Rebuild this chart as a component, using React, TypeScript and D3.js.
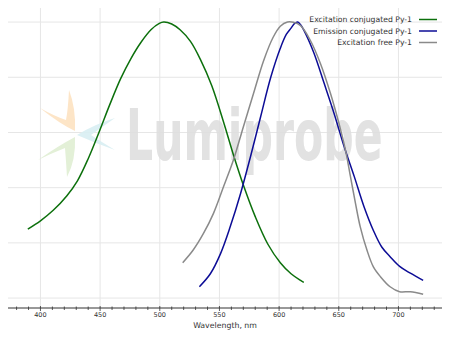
import React from "react";
import * as d3 from "d3";

const greenX = [389.4, 400, 410.7, 422, 431, 440, 449, 458, 467.2, 475.6, 484, 492.6, 499.6, 503.3, 510, 517, 525.7, 534, 543.5, 554, 562, 570.4, 580, 590.6, 601, 610, 618, 620.7];
const greenY = [0.25, 0.28, 0.318, 0.37, 0.425, 0.505, 0.6, 0.7, 0.795, 0.866, 0.925, 0.972, 0.995, 1.0, 0.993, 0.972, 0.93, 0.865, 0.77, 0.63, 0.515, 0.405, 0.295, 0.195, 0.128, 0.088, 0.064, 0.057];

const blueX = [533.2, 542.5, 551, 559, 567.7, 576, 584.5, 593, 601, 606, 610, 613, 615.6, 618, 620.7, 629, 637.6, 646, 654.4, 663, 671, 679, 686, 693, 701, 710, 720.7];
const blueY = [0.041, 0.089, 0.162, 0.258, 0.379, 0.512, 0.657, 0.8, 0.905, 0.955, 0.978, 0.995, 1.0, 0.99, 0.971, 0.89, 0.78, 0.67, 0.55, 0.44, 0.333, 0.245, 0.185, 0.15, 0.115, 0.09, 0.064];

const greyX = [519.2, 528, 536.6, 545, 553.4, 561.7, 570, 578.6, 587, 595, 601, 607, 612, 618, 626, 634.6, 643, 650, 655.6, 659.8, 664, 668, 673.6, 679, 685, 693, 701, 710, 720.7];
const greyY = [0.128, 0.174, 0.234, 0.307, 0.403, 0.5, 0.62, 0.742, 0.86, 0.945, 0.985, 1.0, 0.999, 0.987, 0.935, 0.85, 0.742, 0.635, 0.536, 0.44, 0.343, 0.258, 0.174, 0.113, 0.077, 0.041, 0.023, 0.023, 0.014];

const seriesNames = ["Excitation conjugated Py-1", "Emission conjugated Py-1", "Excitation free Py-1"];
const seriesColors = ["#0c700c", "#0c0c96", "#8a8a8a"];
const xTicks = [400, 450, 500, 550, 600, 650, 700];
const yGrid = [0, 0.2, 0.4, 0.6, 0.8, 1.0];
const xLabel = "Wavelength, nm";

const W = 450, H = 338;
const L = 8, R = 442, T = 8, B = 308;

export default function App() {
  const x = d3.scaleLinear().domain([372.8, 736.5]).range([L, R]);
  const y = d3.scaleLinear().domain([-0.036, 1.051]).range([B, T]);
  const line = d3
    .line<[number, number]>()
    .x((d) => x(d[0]))
    .y((d) => y(d[1]))
    .curve(d3.curveCatmullRom.alpha(0.5));
  const series = [
    d3.zip(greenX, greenY) as [number, number][],
    d3.zip(blueX, blueY) as [number, number][],
    d3.zip(greyX, greyY) as [number, number][],
  ];
  const minor = d3.range(380, 731, 10).filter((v) => v % 50 !== 0);
  const font = "DejaVu Sans, sans-serif";

  return (
    <svg width={W} height={H} style={{ position: "absolute", left: 0, top: 0, background: "#fff" }}>
      {/* grid */}
      {xTicks.map((t) => (
        <line key={"gx" + t} x1={x(t)} x2={x(t)} y1={T} y2={B} stroke="#e6e6e6" strokeWidth={1} />
      ))}
      {yGrid.map((t) => (
        <line key={"gy" + t} x1={L} x2={R} y1={y(t)} y2={y(t)} stroke="#e6e6e6" strokeWidth={1} />
      ))}
      {/* watermark */}
      <g opacity={0.9}>
        <path d="M40,108 Q60,124 75,131 Q76,108 69,90 Q68,110 66,120 Q54,116 40,108 Z" fill="#fde3c2" />
        <path d="M38,160 Q58,146 75,137 Q76,160 67,177 Q66,160 65,148 Q52,153 38,160 Z" fill="#e0efd3" />
        <path d="M115,118 Q95,124 77,135 Q95,143 115,150 Q100,141 91,135 Q102,127 115,118 Z" fill="#d9eff3" />
        <g transform="translate(126,160) scale(0.6,1)">
          <text x={0} y={0} fontFamily={font} fontWeight="bold" fontSize={71} fill="#dfdfdf">
            Lumiprobe
          </text>
        </g>
      </g>
      {/* curves */}
      {series.map((s, i) => (
        <path key={"s" + i} d={line(s) || ""} fill="none" stroke={seriesColors[i]} strokeWidth={1.5} strokeLinejoin="round" />
      ))}
      {/* x axis */}
      <line x1={L} x2={R} y1={B} y2={B} stroke="#333" strokeWidth={1} />
      {minor.map((t) => (
        <line key={"mt" + t} x1={x(t)} x2={x(t)} y1={B - 1.5} y2={B + 2} stroke="#333" strokeWidth={0.8} />
      ))}
      {xTicks.map((t) => (
        <g key={"t" + t}>
          <line x1={x(t)} x2={x(t)} y1={B - 2} y2={B + 3} stroke="#333" strokeWidth={0.8} />
          <text x={x(t)} y={317} textAnchor="middle" fontFamily={font} fontSize={6.5} fill="#333">
            {t}
          </text>
        </g>
      ))}
      <text x={(L + R) / 2} y={328} textAnchor="middle" fontFamily={font} fontSize={7.8} fill="#333">
        {xLabel}
      </text>
      {/* legend */}
      {seriesNames.map((n, i) => (
        <g key={"lg" + i}>
          <text x={412} y={19.5 + i * 11.5 + 2.8} textAnchor="end" fontFamily={font} fontSize={7.7} fill="#333">
            {n}
          </text>
          <line x1={419} x2={437} y1={19.5 + i * 11.5} y2={19.5 + i * 11.5} stroke={seriesColors[i]} strokeWidth={1.5} />
        </g>
      ))}
    </svg>
  );
}
